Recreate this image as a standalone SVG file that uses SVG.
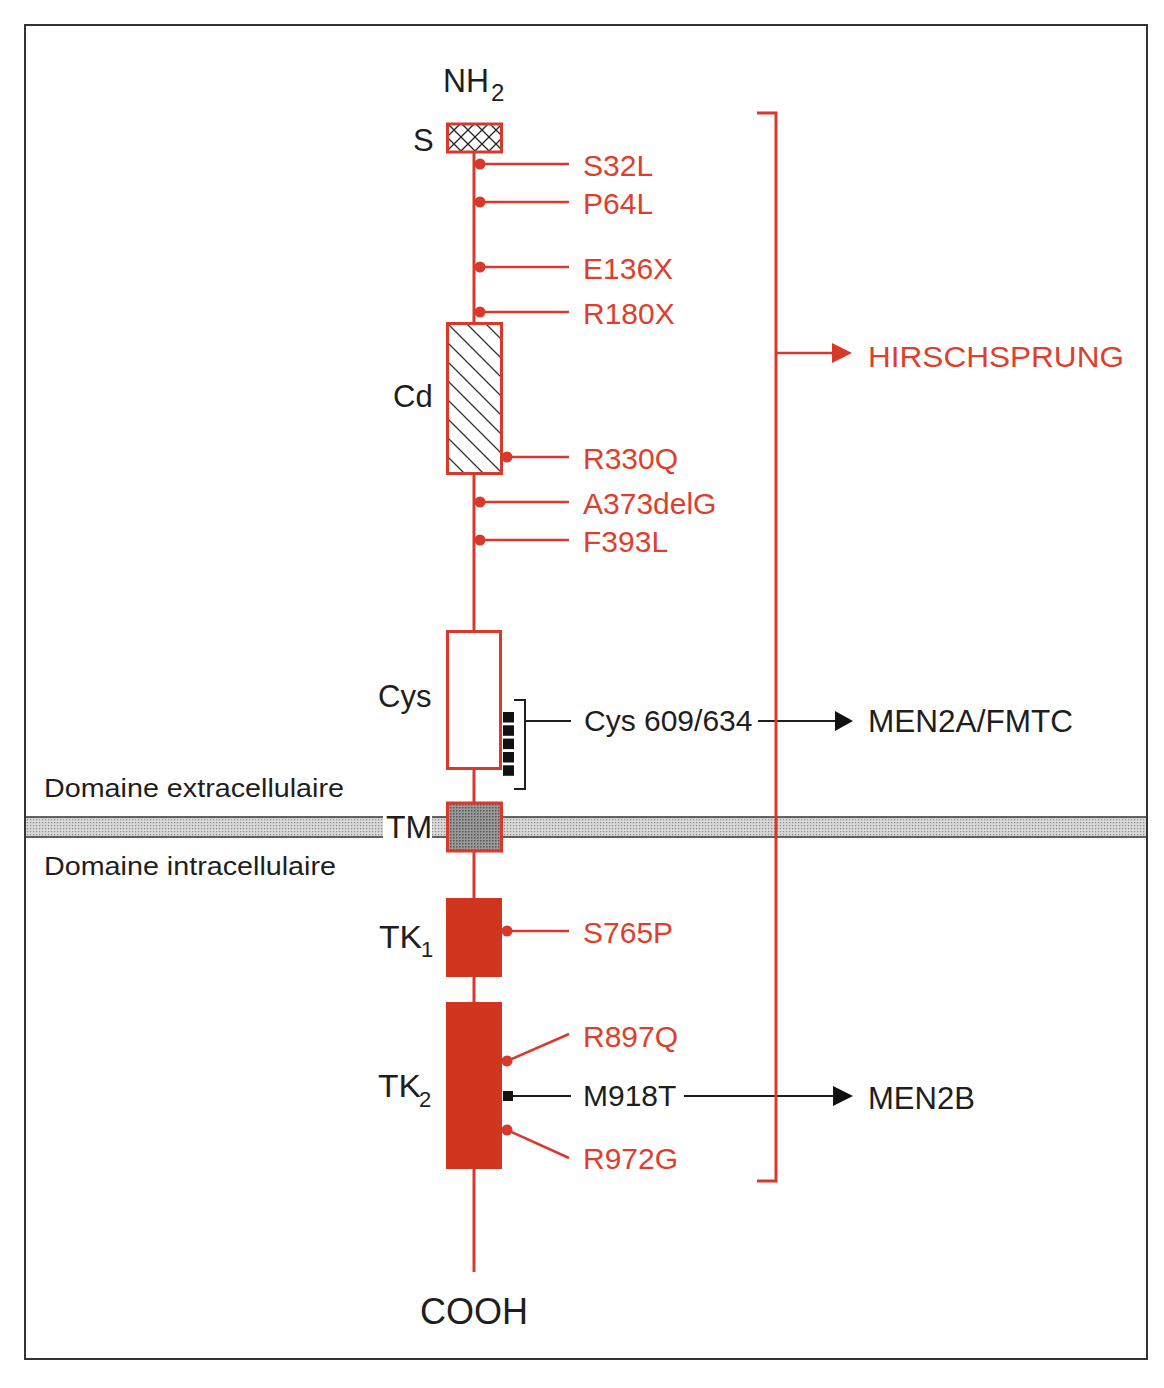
<svg xmlns="http://www.w3.org/2000/svg" width="1164" height="1388" viewBox="0 0 1164 1388">
<style>
  .lbl { font-family: "Liberation Sans", Arial, sans-serif; fill: #1e1e1e; }
  .mut { font-family: "Liberation Sans", Arial, sans-serif; fill: #de3f2c; font-size: 30px; }
  .red { stroke: #d9392a; fill: none; }
  .blk { stroke: #1e1e1e; fill: none; }
</style>
<defs>
  <pattern id="cross" patternUnits="userSpaceOnUse" x="447" y="123" width="14" height="14">
    <rect width="14" height="14" fill="#ffffff"/>
    <path d="M0,0 L14,14 M14,0 L0,14" stroke="#222" stroke-width="1.3" fill="none"/>
  </pattern>
  <pattern id="diag" patternUnits="userSpaceOnUse" x="447" y="342" width="19" height="19">
    <rect width="19" height="19" fill="#ffffff"/>
    <path d="M0,0 L19,19 M-3,16 L3,22 M16,-3 L22,3" stroke="#333" stroke-width="1.3" fill="none"/>
  </pattern>
  <pattern id="stipple" patternUnits="userSpaceOnUse" width="3" height="3">
    <rect width="3" height="3" fill="#d8d8d8"/>
    <rect x="0" y="0" width="1.2" height="1.2" fill="#8a8a8a"/>
  </pattern>
  <pattern id="stippleDark" patternUnits="userSpaceOnUse" width="3" height="3">
    <rect width="3" height="3" fill="#9a9a9a"/>
    <rect x="0" y="0" width="1.5" height="1.5" fill="#555"/>
  </pattern>
</defs>

<rect x="0" y="0" width="1164" height="1388" fill="#ffffff"/>
<rect id="frame" x="25" y="25" width="1122" height="1334" fill="none" stroke="#333" stroke-width="2"/>

<g id="membrane">
  <rect x="26" y="817" width="357" height="20" fill="url(#stipple)"/>
  <rect x="432" y="817" width="15" height="20" fill="url(#stipple)"/>
  <rect x="502" y="817" width="644" height="20" fill="url(#stipple)"/>
  <path d="M26,817 H383 M26,837 H383 M432,817 H447 M432,837 H447 M502,817 H1146 M502,837 H1146" stroke="#333" stroke-width="1.5" fill="none"/>
</g>

<g id="labels-domain">
  <text class="lbl" x="44" y="797" font-size="26" textLength="300" lengthAdjust="spacingAndGlyphs">Domaine extracellulaire</text>
  <text class="lbl" x="44" y="875" font-size="26" textLength="292" lengthAdjust="spacingAndGlyphs">Domaine intracellulaire</text>
</g>

<g id="backbone">
  <line x1="474" y1="152" x2="474" y2="1272" stroke="#d9392a" stroke-width="3"/>
</g>

<g id="NH2">
  <text class="lbl" x="443" y="92" font-size="33" textLength="46" lengthAdjust="spacingAndGlyphs">NH</text>
  <text class="lbl" x="491" y="101" font-size="24">2</text>
</g>

<g id="node-S">
  <rect x="447.5" y="124" width="54" height="28" fill="url(#cross)" stroke="#d9392a" stroke-width="3"/>
  <text class="lbl" x="413" y="151" font-size="31">S</text>
</g>

<g id="node-Cd">
  <rect x="447.5" y="323.5" width="54" height="150" fill="url(#diag)" stroke="#d9392a" stroke-width="3"/>
  <text class="lbl" x="393" y="407" font-size="31">Cd</text>
</g>

<g id="node-Cys">
  <rect x="447.5" y="631.5" width="53" height="137" fill="#ffffff" stroke="#d9392a" stroke-width="3"/>
  <text class="lbl" x="378" y="707" font-size="31">Cys</text>
  <g fill="#111">
    <rect x="503" y="712" width="11" height="10.5"/>
    <rect x="503" y="725.3" width="11" height="10.5"/>
    <rect x="503" y="738.6" width="11" height="10.5"/>
    <rect x="503" y="752" width="11" height="10.5"/>
    <rect x="503" y="765.3" width="11" height="10.5"/>
  </g>
  <path d="M514,700 H525 V789 H514" class="blk" stroke-width="2"/>
</g>

<g id="node-TM">
  <rect x="447.5" y="803" width="54" height="48" fill="url(#stippleDark)" stroke="#d9392a" stroke-width="3"/>
  <text class="lbl" x="386" y="838" font-size="32">TM</text>
</g>

<g id="node-TK1">
  <rect x="446" y="898" width="56" height="79" fill="#d0351f"/>
  <text class="lbl" x="379" y="948" font-size="32" textLength="43" lengthAdjust="spacingAndGlyphs">TK</text>
  <text class="lbl" x="421" y="957" font-size="22">1</text>
</g>

<g id="node-TK2">
  <rect x="446" y="1002" width="56" height="167" fill="#d0351f"/>
  <text class="lbl" x="378" y="1097" font-size="32" textLength="43" lengthAdjust="spacingAndGlyphs">TK</text>
  <text class="lbl" x="419" y="1107" font-size="22">2</text>
</g>

<g id="COOH">
  <text class="lbl" x="420" y="1324" font-size="36">COOH</text>
</g>

<g id="connectors">
  <g fill="#d9392a">
    <circle cx="480" cy="164" r="5.5"/>
    <circle cx="480" cy="202" r="5.5"/>
    <circle cx="480" cy="267" r="5.5"/>
    <circle cx="480" cy="312" r="5.5"/>
    <circle cx="507" cy="457" r="5.5"/>
    <circle cx="480" cy="502" r="5.5"/>
    <circle cx="480" cy="540" r="5.5"/>
    <circle cx="507" cy="931" r="5.5"/>
    <circle cx="507" cy="1061" r="5.5"/>
    <circle cx="507" cy="1130" r="5.5"/>
  </g>
  <path class="red" stroke-width="2.5" d="M480,164 H569 M480,202 H569 M480,267 H569 M480,312 H569 M507,457 H569 M480,502 H569 M480,540 H569 M507,931 H569 M507,1061 L569,1034 M507,1130 L569,1158"/>
  <rect x="503" y="1091" width="10" height="10" fill="#111"/>
  <path class="blk" stroke-width="2" d="M513,1096 H571 M684,1096 H834 M525,721 H571 M758,721 H835"/>
  <polygon points="833,1086 853,1096 833,1106" fill="#111"/>
  <polygon points="835,711 853,721 835,731" fill="#111"/>
  <path class="red" stroke-width="3" d="M757,113 H776 V1181 H757"/>
  <path class="red" stroke-width="2.5" d="M776,353 H834"/>
  <polygon points="832,343 852,353 832,363" fill="#d9392a"/>
</g>

<g id="mutations">
  <text class="mut" x="583" y="176">S32L</text>
  <text class="mut" x="583" y="214">P64L</text>
  <text class="mut" x="583" y="279">E136X</text>
  <text class="mut" x="583" y="324">R180X</text>
  <text class="mut" x="583" y="469">R330Q</text>
  <text class="mut" x="583" y="514">A373delG</text>
  <text class="mut" x="583" y="552">F393L</text>
  <text class="mut" x="583" y="943">S765P</text>
  <text class="mut" x="583" y="1047">R897Q</text>
  <text class="mut" x="583" y="1169">R972G</text>
  <text class="lbl" x="583" y="1106" font-size="30">M918T</text>
  <text class="lbl" x="584" y="731" font-size="30">Cys 609/634</text>
</g>

<g id="diseases">
  <text class="mut" x="868" y="367" font-size="35" textLength="256" lengthAdjust="spacingAndGlyphs">HIRSCHSPRUNG</text>
  <text class="lbl" x="868" y="732" font-size="31" textLength="205" lengthAdjust="spacingAndGlyphs">MEN2A/FMTC</text>
  <text class="lbl" x="868" y="1109" font-size="31" textLength="107" lengthAdjust="spacingAndGlyphs">MEN2B</text>
</g>
</svg>
